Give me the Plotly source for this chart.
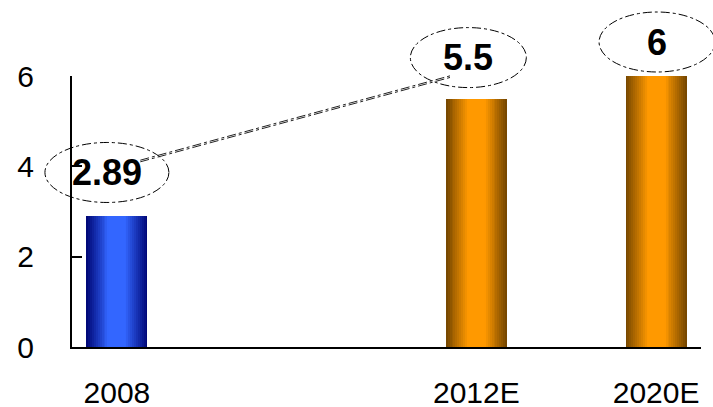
import plotly.graph_objects as go

# Time slots along the x axis (only the labelled years are shown)
slots = ["2008", "2009", "2010", "2011", "2012E", "2016E", "2020E"]
years = ["2008", "2012E", "2020E"]
values = [2.89, 5.5, 6]
is_estimate = [False, True, True]
y_ticks = [0, 2, 4, 6]
Y_MAX = 6

FONT = "Liberation Sans, Arial, sans-serif"
BAR_WIDTH = 0.68
LAYERS = 16

# edge -> centre colours for the cylinder-like shading
ACTUAL = ((0, 8, 120), (51, 102, 255))
ESTIMATE = ((120, 72, 0), (255, 153, 0))


def mix(a, b, t):
    return "rgb(%d,%d,%d)" % tuple(round(a[k] + (b[k] - a[k]) * t) for k in range(3))


def paper_x(idx):
    # category index -> paper fraction for a range of [-0.5, n-0.5]
    return (idx + 0.5) / len(slots)


def paper_y(v):
    return v / Y_MAX


fig = go.Figure()

# Horizontal gradient: stack narrower, lighter bars over each other
for i in range(LAYERS):
    frac = 1 - i / LAYERS
    t = min(1.0, (i / (LAYERS - 1)) * 1.35)
    colors = [mix(*(ESTIMATE if e else ACTUAL), t) for e in is_estimate]
    fig.add_trace(go.Bar(
        x=years, y=values,
        width=[BAR_WIDTH * frac] * len(years),
        marker=dict(color=colors, line=dict(width=0)),
        hoverinfo="skip", showlegend=False,
    ))

# value labels in dashed ellipses above the bars
label_dx = [-10, -8, 1]
label_dy = [44, 41, 34]
ell_rx = [62, 58, 58]
for yr, v, dx, dy, rx in zip(years, values, label_dx, label_dy, ell_rx):
    idx = slots.index(yr)
    fig.add_annotation(
        x=paper_x(idx), y=paper_y(v), xref="paper", yref="paper",
        xanchor="center", yanchor="middle",
        text="<b>%g</b>" % v, showarrow=False,
        xshift=dx, yshift=dy,
        font=dict(family=FONT, size=36, color="black"),
    )
    fig.add_shape(
        type="circle", xref="paper", yref="paper",
        xsizemode="pixel", ysizemode="pixel",
        xanchor=paper_x(idx), yanchor=paper_y(v),
        x0=dx - rx, x1=dx + rx, y0=dy - 30, y1=dy + 30,
        line=dict(color="black", width=1, dash="dashdot"),
    )

# growth connector between the 2008 and 2012E callouts
for off in (0, 0.006):
    fig.add_shape(
        type="line", xref="paper", yref="paper",
        x0=paper_x(0.26), y0=paper_y(4.10) + off,
        x1=paper_x(3.73), y1=paper_y(5.98) + off,
        line=dict(color="#222222", width=1, dash="dashdot"),
    )

fig.update_layout(
    width=713, height=407,
    margin=dict(l=72, r=12, t=76, b=60),
    paper_bgcolor="white", plot_bgcolor="white",
    barmode="overlay", bargap=0,
    font=dict(family=FONT, size=30, color="black"),
    showlegend=False,
)
fig.update_xaxes(
    type="category", categoryorder="array", categoryarray=slots,
    range=[-0.5, len(slots) - 0.5],
    tickvals=years, ticktext=years,
    showline=True, linecolor="black", linewidth=2,
    ticks="", showgrid=False, zeroline=False,
    automargin=False, ticklabelstandoff=18,
    tickfont=dict(family=FONT, size=30, color="black"),
)
fig.update_yaxes(
    range=[0, Y_MAX], tickvals=y_ticks,
    showline=True, linecolor="black", linewidth=2,
    ticks="inside", ticklen=10, tickwidth=2, tickcolor="black",
    showgrid=False, zeroline=False,
    automargin=False, ticklabelstandoff=30,
    tickfont=dict(family=FONT, size=30, color="black"),
)

fig.write_html("out.html")
